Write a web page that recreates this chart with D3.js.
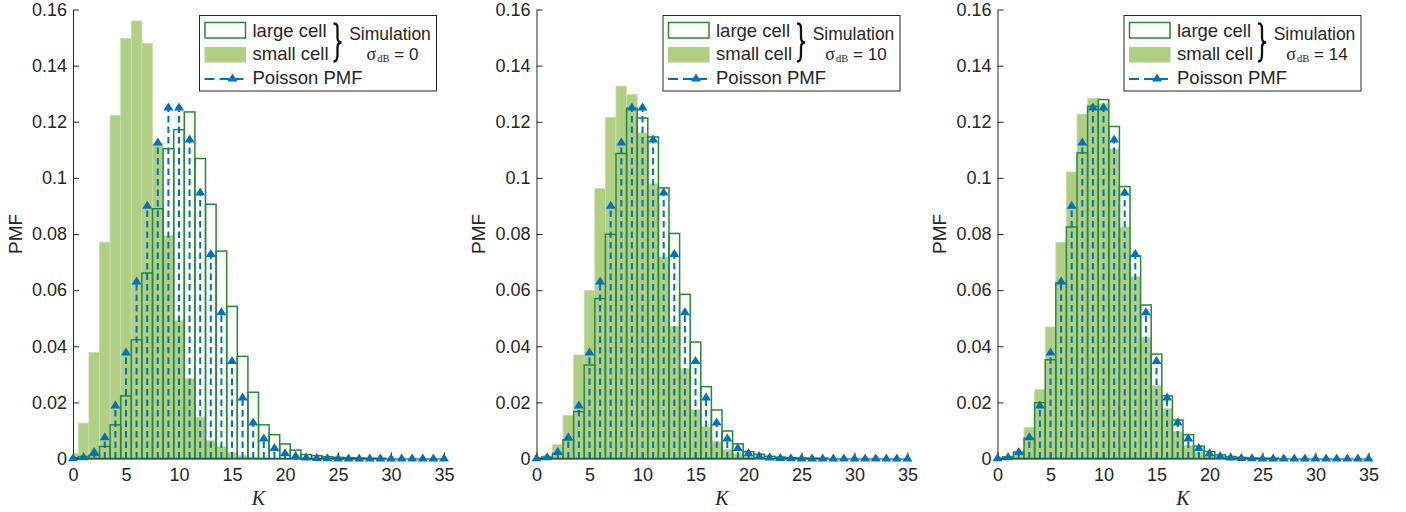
<!DOCTYPE html>
<html>
<head>
<meta charset="utf-8">
<script src="https://cdn.jsdelivr.net/npm/d3@7"></script>
<style>
  html, body { margin: 0; padding: 0; background: #fff; }
  svg { display: block; }
  text { font-family: "Liberation Sans", Arial, sans-serif; fill: #262626; }
</style>
</head>
<body>
<svg id="chart" width="1406" height="512"></svg>
<script>
// ---------------- data ----------------
const categories = [0,1,2,3,4,5,6,7,8,9,10,11,12,13,14,15,16,17,18,19,20,21,22,23,24,25,26,27,28,29,30,31,32,33,34,35];

const poissonPMF = [0.00005, 0.00045, 0.0023, 0.0076, 0.0189, 0.0378, 0.0631, 0.0901, 0.1126, 0.1251,
  0.1251, 0.1137, 0.0948, 0.0729, 0.0521, 0.0347, 0.0217, 0.0128, 0.0071, 0.0037,
  0.0019, 0.0009, 0.0004, 0.0002, 0.0001, 0.00004, 0.00002, 0.00001, 0, 0,
  0, 0, 0, 0, 0, 0];

const smallSigma0 = [0.0019, 0.0126, 0.0378, 0.0771, 0.1223, 0.1497, 0.1559, 0.1479, 0.1123, 0.0794,
  0.0491, 0.0285, 0.0147, 0.0064, 0.0042, 0.0022, 0.0011, 0.0005, 0.0002, 0.0001,
  0, 0, 0, 0, 0, 0, 0, 0, 0, 0,
  0, 0, 0, 0, 0, 0];
const largeSigma0 = [0.0003, 0.0007, 0.0011, 0.0043, 0.012, 0.0223, 0.0423, 0.0661, 0.089, 0.1104,
  0.1172, 0.1235, 0.1069, 0.0906, 0.0739, 0.0542, 0.0364, 0.0236, 0.012, 0.0085,
  0.0052, 0.003, 0.0014, 0.001, 0.0006, 0.0004, 0.0003, 0.0002, 0.0001, 0.0001,
  0, 0, 0, 0, 0, 0];

const smallSigma10 = [0.0002, 0.001, 0.005, 0.0154, 0.0369, 0.0599, 0.0962, 0.1216, 0.1327, 0.1297,
  0.116, 0.0979, 0.0718, 0.047, 0.032, 0.0174, 0.0114, 0.006, 0.0032, 0.0017,
  0.0008, 0.0004, 0.0002, 0.0001, 0.0001, 0, 0, 0, 0, 0,
  0, 0, 0, 0, 0, 0];
const largeSigma10 = [0.0001, 0.0005, 0.0018, 0.0066, 0.0167, 0.0333, 0.057, 0.0799, 0.1087, 0.1248,
  0.1213, 0.1146, 0.0964, 0.0802, 0.0585, 0.0415, 0.0256, 0.0173, 0.0098, 0.0052,
  0.0024, 0.0015, 0.0008, 0.0005, 0.0003, 0.0002, 0.0001, 0.0001, 0, 0,
  0, 0, 0, 0, 0, 0];

const smallSigma14 = [0.0002, 0.0006, 0.0026, 0.0111, 0.0246, 0.0469, 0.077, 0.1021, 0.1227, 0.1284,
  0.1266, 0.1103, 0.0825, 0.0648, 0.0432, 0.026, 0.0178, 0.0096, 0.0046, 0.0024,
  0.0012, 0.0006, 0.0003, 0.0001, 0.0001, 0, 0, 0, 0, 0,
  0, 0, 0, 0, 0, 0];
const largeSigma14 = [0.0001, 0.0006, 0.0023, 0.0072, 0.0199, 0.0352, 0.0626, 0.0825, 0.1089, 0.1255,
  0.1279, 0.1183, 0.0969, 0.0722, 0.0547, 0.0372, 0.0223, 0.0137, 0.0085, 0.0044,
  0.0025, 0.0013, 0.0007, 0.0004, 0.0002, 0.0001, 0.0001, 0, 0, 0,
  0, 0, 0, 0, 0, 0];

const sigmaLabels = ["0", "10", "14"];
const xTicks = [0, 5, 10, 15, 20, 25, 30, 35];
const yTicks = [0, 0.02, 0.04, 0.06, 0.08, 0.1, 0.12, 0.14, 0.16];
const legendLabels = ["large cell", "small cell", "Poisson PMF"];
const simLabel = "Simulation";

// ---------------- layout / style ----------------
const panelLefts = [73, 536.5, 997.5];
const plotW = 371;
const yTop = 9.5, yBottom = 458.5;
const GREEN_FILL = "#B0CF85";
const GREEN_LINE = "#258A30";
const BLUE = "#0072BD";
const AX = "#262626";

const panels = [
  { small: smallSigma0,  large: largeSigma0,  sigma: sigmaLabels[0] },
  { small: smallSigma10, large: largeSigma10, sigma: sigmaLabels[1] },
  { small: smallSigma14, large: largeSigma14, sigma: sigmaLabels[2] }
];

const svg = d3.select("#chart");
const x = d3.scaleLinear().domain([0, 35]).range([0, plotW]);
const y = d3.scaleLinear().domain([0, 0.16]).range([yBottom, yTop]);
const triPath = "M0,-5 L5,3 L-5,3 Z";

svg.append("defs").append("clipPath").attr("id", "plotclip")
  .append("rect").attr("x", 0).attr("y", 0).attr("width", plotW + 1).attr("height", yBottom + 1);

panels.forEach((p, i) => {
  const g = svg.append("g").attr("transform", `translate(${panelLefts[i]},0)`);
  const bars = g.append("g").attr("clip-path", "url(#plotclip)");

  // small cell (filled)
  bars.selectAll("rect.small").data(categories).join("rect")
    .attr("class", "small")
    .attr("x", k => x(k - 0.5))
    .attr("width", k => x(k + 0.5) - x(k - 0.5))
    .attr("y", k => y(p.small[k]))
    .attr("height", k => y(0) - y(p.small[k]))
    .attr("fill", GREEN_FILL)
    .attr("stroke", "#C8DEAE")
    .attr("stroke-width", 0.8);

  // large cell (outline)
  bars.selectAll("rect.large").data(categories).join("rect")
    .attr("class", "large")
    .attr("x", k => x(k - 0.5))
    .attr("width", k => x(k + 0.5) - x(k - 0.5))
    .attr("y", k => y(p.large[k]))
    .attr("height", k => y(0) - y(p.large[k]))
    .attr("fill", "none")
    .attr("stroke", GREEN_LINE)
    .attr("stroke-width", 1.5);

  // axes
  const yAxis = d3.axisLeft(y).tickValues(yTicks).tickFormat(d => d3.format("~g")(d))
    .tickSizeInner(-6).tickSizeOuter(0).tickPadding(6);
  const xAxis = d3.axisBottom(x).tickValues(xTicks).tickFormat(d3.format("d"))
    .tickSizeInner(-6).tickSizeOuter(0).tickPadding(10);

  const ya = g.append("g").call(yAxis);
  const xa = g.append("g").attr("transform", `translate(0,${yBottom})`).call(xAxis);
  [ya, xa].forEach(a => {
    a.select(".domain").attr("stroke", AX).attr("stroke-width", 1);
    a.selectAll(".tick line").attr("stroke", AX).attr("stroke-width", 1);
    a.selectAll(".tick text").attr("fill", AX).style("font-size", "18px")
      .style("font-family", '"Liberation Sans", Arial, sans-serif');
  });

  // Poisson stems
  g.append("g").selectAll("line").data(categories).join("line")
    .attr("x1", k => x(k)).attr("x2", k => x(k))
    .attr("y1", y(0)).attr("y2", k => y(poissonPMF[k]))
    .attr("stroke", BLUE).attr("stroke-width", 2)
    .attr("stroke-dasharray", "6.5,4");
  g.append("g").selectAll("path").data(categories).join("path")
    .attr("d", triPath)
    .attr("transform", k => `translate(${x(k)},${y(poissonPMF[k])})`)
    .attr("fill", BLUE);

  // axis labels
  g.append("text")
    .attr("transform", `translate(-58,${(yTop + yBottom) / 2}) rotate(-90)`)
    .attr("text-anchor", "middle").attr("dy", "0.35em")
    .style("font-size", "19px").text("PMF");
  g.append("text")
    .attr("x", plotW / 2).attr("y", 505)
    .attr("text-anchor", "middle")
    .style("font-family", '"Liberation Serif", "Times New Roman", serif')
    .style("font-style", "italic").style("font-size", "20px")
    .text("K");

  // legend
  const L = g.append("g").attr("transform", "translate(126.5,15.5)");
  L.append("rect").attr("width", 237).attr("height", 75.5)
    .attr("fill", "#fff").attr("stroke", AX).attr("stroke-width", 1);
  L.append("rect").attr("x", 5.5).attr("y", 7).attr("width", 40.5).attr("height", 15.5)
    .attr("fill", "#fff").attr("stroke", GREEN_LINE).attr("stroke-width", 1.5);
  L.append("rect").attr("x", 5).attr("y", 31.5).attr("width", 41.5).attr("height", 15.5)
    .attr("fill", GREEN_FILL);
  L.append("line").attr("x1", 5).attr("x2", 44).attr("y1", 63.5).attr("y2", 63.5)
    .attr("stroke", BLUE).attr("stroke-width", 2).attr("stroke-dasharray", "10,5");
  L.append("path").attr("d", triPath).attr("transform", "translate(33,63)").attr("fill", BLUE);

  const ty = [21.5, 44.5, 68.5];
  legendLabels.forEach((t, j) => {
    L.append("text").attr("x", 53).attr("y", ty[j]).style("font-size", "18.5px").text(t);
  });

  // brace
  const bx = 134, bt = 8, bb = 46, bm = 27, bw = 8;
  L.append("path")
    .attr("d", `M${bx},${bt} C${bx + bw * 0.55},${bt} ${bx + bw * 0.5},${bt + 3} ${bx + bw * 0.5},${bt + 7}
      L${bx + bw * 0.5},${bm - 5} C${bx + bw * 0.5},${bm - 1.5} ${bx + bw * 0.7},${bm} ${bx + bw},${bm}
      C${bx + bw * 0.7},${bm} ${bx + bw * 0.5},${bm + 1.5} ${bx + bw * 0.5},${bm + 5}
      L${bx + bw * 0.5},${bb - 7} C${bx + bw * 0.5},${bb - 3} ${bx + bw * 0.45},${bb} ${bx},${bb}`)
    .attr("fill", "none").attr("stroke", "#111").attr("stroke-width", 2.3);

  // two-line annotation
  L.append("text").attr("x", 190.5).attr("y", 24.5).attr("text-anchor", "middle")
    .style("font-size", "17.5px").text(simLabel);
  const st = L.append("text").attr("x", 193).attr("y", 44.5).attr("text-anchor", "middle")
    .style("font-size", "17px");
  st.append("tspan")
    .style("font-family", '"Liberation Serif", "Times New Roman", serif')
    .style("font-size", "18px").text("σ");
  st.append("tspan").style("font-family", '"Liberation Serif", "Times New Roman", serif')
    .style("font-size", "10.5px").attr("dy", 1.5).attr("dx", 1).text("dB");
  st.append("tspan").attr("dy", -1.5).text(" = " + p.sigma);
});
</script>
</body>
</html>
